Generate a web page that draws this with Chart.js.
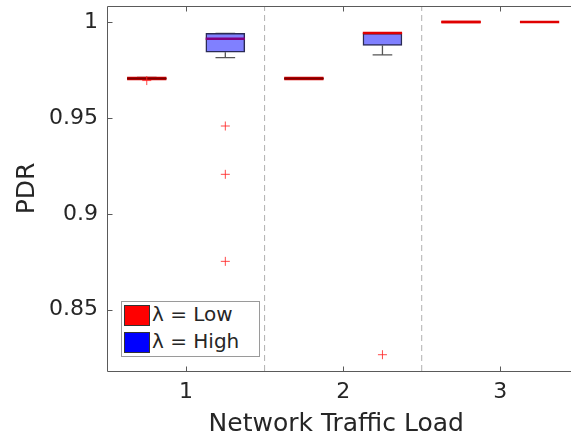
<!DOCTYPE html>
<html>
<head>
<meta charset="utf-8">
<script src="https://cdn.jsdelivr.net/npm/chart.js@4.4.1/dist/chart.umd.min.js"></script>
<style>
  html, body { margin: 0; padding: 0; background: #fff; overflow: hidden; }
  #wrap { position: relative; width: 571px; height: 440px; }
  #legend { position: absolute; left: 121px; top: 301px; width: 137px; height: 54px;
            border: 1px solid #9a9a9a; background: #fff; font-family: 'DejaVu Sans', sans-serif;
            font-size: 20px; color: #262626; }
  .item { position: absolute; left: 2px; height: 21px; line-height: 21px; white-space: nowrap; }
  .patch { position: absolute; left: 0; top: 0; width: 24px; height: 19px; border: 1px solid #333; }
  .lbl { position: absolute; left: 28px; top: -1px; }
</style>
</head>
<body>
<div id="wrap">
  <canvas id="c" width="571" height="440"></canvas>
  <div id="legend">
    <div class="item" style="top:3px"><div class="patch" style="background:#ff0000"></div><span class="lbl">λ = Low</span></div>
    <div class="item" style="top:30px"><div class="patch" style="background:#0000ff"></div><span class="lbl">λ = High</span></div>
  </div>
</div>
<script>
// ---- data ----
const categories = [1, 2, 3];
const xTickLabels = ['1', '2', '3'];
const yTickValues = [0.85, 0.9, 0.95, 1];
const yTickLabels = ['0.85', '0.9', '0.95', '1'];
const separators = [1.5, 2.5];

// lambda = Low
const lowWhiskLo = [0.9704, 0.9704, 1.0];
const lowQ1      = [0.9704, 0.9704, 1.0];
const lowMed     = [0.9706, 0.9706, 1.0];
const lowQ3      = [0.9708, 0.9708, 1.0];
const lowWhiskHi = [0.9712, 0.9708, 1.0];
const lowOutliers = [[0.9695], [], []];

// lambda = High
const highWhiskLo = [0.9815, 0.9829, 1.0];
const highQ1      = [0.9843, 0.9878, 1.0];
const highMed     = [0.9913, 0.9943, 1.0];
const highQ3      = [0.9941, 0.9941, 1.0];
const highWhiskHi = [0.9941, 0.9941, 1.0];
const highOutliers = [[0.9458, 0.9206, 0.8752], [0.8265], []];

// ---- geometry helpers (layout, not data) ----
const OFF = 0.25, HALF = 0.125, CAP = 0.0625;
const Y_MIN = 0.818, Y_MAX = 1.0084;
const X_MIN = 0.497, X_MAX = 3.415;

function boxes(off, q1, q3) {
  return categories.map((c, i) => ({ x: c + off, y: [q1[i], q3[i]] }));
}
function medians(off, med) {
  const d = [];
  categories.forEach((c, i) => {
    d.push({ x: c + off - HALF, y: med[i] }, { x: c + off + HALF, y: med[i] }, { x: c + off, y: null });
  });
  return d;
}
function whiskers(off, lo, q1, q3, hi) {
  const d = [];
  categories.forEach((c, i) => {
    const x = c + off;
    if (q1[i] > lo[i]) {
      d.push({ x: x, y: q1[i] }, { x: x, y: lo[i] }, { x: x, y: null });
    }
    if (hi[i] > q3[i]) {
      d.push({ x: x, y: q3[i] }, { x: x, y: hi[i] }, { x: x, y: null });
    }
    if (lo[i] < hi[i]) {
      d.push({ x: x - CAP, y: lo[i] }, { x: x + CAP, y: lo[i] }, { x: x, y: null });
      d.push({ x: x - CAP, y: hi[i] }, { x: x + CAP, y: hi[i] }, { x: x, y: null });
    }
  });
  return d;
}
function outliers(off, arr) {
  const d = [];
  categories.forEach((c, i) => arr[i].forEach(v => d.push({ x: c + off, y: v })));
  return d;
}
function seps() {
  const d = [];
  separators.forEach(s => d.push({ x: s, y: Y_MIN }, { x: s, y: Y_MAX }, { x: s, y: null }));
  return d;
}

const lineBase = { type: 'line', pointRadius: 0, pointHoverRadius: 0, spanGaps: false, fill: false, tension: 0 };
const hasBox = (q1, q3, g) => q3[g] > q1[g];

const framePlugin = {
  id: 'frame',
  afterDraw(chart) {
    const { ctx, chartArea: a, scales: { x, y } } = chart;
    ctx.save();
    ctx.strokeStyle = '#5a5a5a';
    ctx.lineWidth = 1;
    const L = Math.round(a.left) + 0.5, T = Math.round(a.top) + 0.5, B = Math.round(a.bottom) + 0.5;
    ctx.beginPath();
    ctx.moveTo(chart.width, T); ctx.lineTo(L, T); ctx.lineTo(L, B); ctx.lineTo(chart.width, B);
    yTickValues.forEach(v => {
      const py = Math.round(y.getPixelForValue(v)) + 0.5;
      ctx.moveTo(L, py); ctx.lineTo(L + 5, py);
    });
    categories.forEach(v => {
      const px = Math.round(x.getPixelForValue(v)) + 0.5;
      ctx.moveTo(px, B); ctx.lineTo(px, B - 5);
      ctx.moveTo(px, T); ctx.lineTo(px, T + 5);
    });
    ctx.stroke();
    ctx.restore();
  }
};

Chart.defaults.font.family = "'DejaVu Sans', sans-serif";
Chart.defaults.color = '#262626';

new Chart(document.getElementById('c'), {
  data: {
    datasets: [
      Object.assign({}, lineBase, { label: 'sep', data: seps(), borderColor: '#b0b0b0', borderWidth: 1, borderDash: [6, 4], order: 10 }),
      Object.assign({}, lineBase, { label: 'lowWhisk', data: whiskers(-OFF, lowWhiskLo, lowQ1, lowQ3, lowWhiskHi), borderColor: '#666', borderWidth: 1.3, order: 8 }),
      Object.assign({}, lineBase, { label: 'highWhisk', data: whiskers(OFF, highWhiskLo, highQ1, highQ3, highWhiskHi), borderColor: '#555', borderWidth: 1.3, order: 8 }),
      { type: 'bar', label: 'highBox', data: boxes(OFF, highQ1, highQ3), barThickness: 39, grouped: false,
        backgroundColor: '#8080ff',
        borderColor: c => hasBox(highQ1, highQ3, c.dataIndex) ? '#2a2a55' : 'rgba(0,0,0,0)',
        borderWidth: 1.5, borderSkipped: false, order: 6 },
      Object.assign({}, lineBase, { label: 'highMed', data: medians(OFF, highMed), borderWidth: 2.5, order: 5,
        borderColor: '#800080',
        segment: { borderColor: s => { const g = Math.floor(s.p0DataIndex / 3);
          return (hasBox(highQ1, highQ3, g) && highMed[g] < highQ3[g]) ? '#800080' : '#e00000'; } } }),
      { type: 'bar', label: 'lowBox', data: boxes(-OFF, lowQ1, lowQ3), barThickness: 39, grouped: false,
        backgroundColor: '#ff0000',
        borderColor: c => hasBox(lowQ1, lowQ3, c.dataIndex) ? '#111' : 'rgba(0,0,0,0)',
        borderWidth: 1.8, borderSkipped: false, order: 4 },
      Object.assign({}, lineBase, { label: 'lowMedEdge', data: medians(-OFF, lowMed), borderWidth: 3.5, order: 3,
        borderColor: '#e00000',
        segment: { borderWidth: s => hasBox(lowQ1, lowQ3, Math.floor(s.p0DataIndex / 3)) ? 3.5 : 2.5 } }),
      Object.assign({}, lineBase, { label: 'lowMed', data: medians(-OFF, lowMed), borderWidth: 2, order: 2.5,
        borderColor: '#e00000',
        segment: { borderColor: s => hasBox(lowQ1, lowQ3, Math.floor(s.p0DataIndex / 3)) ? '#7a0000' : '#e00000',
                   borderWidth: s => hasBox(lowQ1, lowQ3, Math.floor(s.p0DataIndex / 3)) ? 2 : 2.5 } }),
      { type: 'scatter', label: 'lowOut', data: outliers(-OFF, lowOutliers), pointStyle: 'cross', pointRadius: 4.5,
        borderColor: 'rgba(255,40,40,0.85)', borderWidth: 1, order: 2 },
      { type: 'scatter', label: 'highOut', data: outliers(OFF, highOutliers), pointStyle: 'cross', pointRadius: 4.5,
        borderColor: 'rgba(255,40,40,0.85)', borderWidth: 1, order: 2 }
    ]
  },
  options: {
    responsive: false,
    animation: false,
    layout: { padding: { top: 6, left: 0, right: 0, bottom: 0 } },
    plugins: { legend: { display: false }, tooltip: { enabled: false } },
    scales: {
      x: {
        type: 'linear', min: X_MIN, max: X_MAX, offset: false,
        grid: { display: false, drawTicks: false },
        border: { display: false },
        afterBuildTicks: s => { s.ticks = categories.map(v => ({ value: v })); },
        ticks: { font: { size: 22 }, padding: 8, autoSkip: false, maxRotation: 0,
                 callback: v => xTickLabels[categories.indexOf(v)] },
        title: { display: true, text: 'Network Traffic Load', font: { size: 25 }, padding: { top: 0, bottom: 1 } },
        afterFit: s => { s.height = 69; s.paddingLeft = 0; s.paddingRight = 0; }
      },
      y: {
        type: 'linear', min: Y_MIN, max: Y_MAX,
        grid: { display: false, drawTicks: false },
        border: { display: false },
        afterBuildTicks: s => { s.ticks = yTickValues.map(v => ({ value: v })); },
        ticks: { font: { size: 22 }, padding: 9, autoSkip: false,
                 callback: v => yTickLabels[yTickValues.indexOf(v)] },
        title: { display: true, text: 'PDR', font: { size: 25 }, padding: { top: 12, bottom: 0 } },
        afterFit: s => { s.width = 107; s.paddingTop = 0; s.paddingBottom = 0; }
      }
    }
  },
  plugins: [framePlugin]
});
</script>
</body>
</html>
